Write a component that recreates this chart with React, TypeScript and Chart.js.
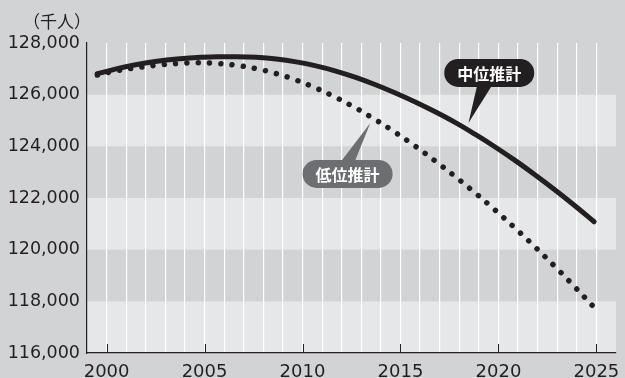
import React, { useEffect, useRef } from "react";
import { Chart, registerables } from "chart.js";

Chart.register(...registerables);

// ---- data ----
const years = [
  2000, 2001, 2002, 2003, 2004, 2005, 2006, 2007, 2008, 2009, 2010, 2011, 2012,
  2013, 2014, 2015, 2016, 2017, 2018, 2019, 2020, 2021, 2022, 2023, 2024, 2025,
];
const mediumProjection = [
  126810, 127010, 127170, 127295, 127385, 127440, 127465, 127470, 127445, 127380,
  127270, 127115, 126915, 126670, 126385, 126065, 125715, 125335, 124925, 124470,
  123985, 123465, 122910, 122330, 121720, 121080,
];
const lowProjection = [
  126760, 126930, 127045, 127140, 127205, 127235, 127210, 127135, 127005, 126815,
  126565, 126255, 125895, 125485, 125030, 124535, 124005, 123435, 122835, 122205,
  121545, 120850, 120125, 119370, 118580, 117765,
];
const yTickValues = [116000, 118000, 120000, 122000, 124000, 126000, 128000];
const xLabelYears = [2000, 2005, 2010, 2015, 2020, 2025];
const seriesNames = ["中位推計", "低位推計"];
const unitLabel = "（千人）";

const INK = "#231f20";
const BG = "#d2d3d5";
const LIGHT = "#e6e7e8";

const fmt = (v: number) => v.toLocaleString("en-US");

const decorPlugin = {
  id: "decor",
  beforeDraw(chart: any) {
    const { ctx, width, height, chartArea, scales } = chart;
    const y = scales.y;
    ctx.save();
    ctx.fillStyle = BG;
    ctx.fillRect(0, 0, width, height);
    for (let j = 0; j < yTickValues.length - 1; j += 2) {
      const yb = y.getPixelForValue(yTickValues[j]);
      const yt = y.getPixelForValue(yTickValues[j + 1]);
      ctx.fillStyle = LIGHT;
      ctx.fillRect(chartArea.left, yt, chartArea.right - chartArea.left, yb - yt);
    }
    ctx.restore();
  },
  afterDatasetsDraw(chart: any) {
    const { ctx, chartArea, scales } = chart;
    const x = scales.x;
    const y = scales.y;
    ctx.save();
    // 5-year tick marks
    ctx.strokeStyle = INK;
    ctx.lineWidth = 1;
    xLabelYears.forEach((yr) => {
      const px = Math.round(x.getPixelForValue(yr)) + 0.5;
      ctx.beginPath();
      ctx.moveTo(px, chartArea.bottom);
      ctx.lineTo(px, chartArea.bottom - 9);
      ctx.stroke();
    });

    // unit label
    ctx.fillStyle = INK;
    ctx.font = '17px "Noto Sans CJK JP"';
    ctx.textAlign = "right";
    ctx.textBaseline = "middle";
    ctx.fillText(unitLabel, chartArea.left + 4, 22);

    const bubble = (
      text: string,
      fill: string,
      cx: number,
      cy: number,
      tipX: number,
      tipY: number,
      baseL: number,
      baseR: number,
      up: boolean
    ) => {
      const w = 90;
      const h = 28;
      const r = h / 2;
      ctx.fillStyle = fill;
      ctx.beginPath();
      ctx.moveTo(cx - w / 2 + r, cy - h / 2);
      ctx.lineTo(cx + w / 2 - r, cy - h / 2);
      ctx.arc(cx + w / 2 - r, cy, r, -Math.PI / 2, Math.PI / 2);
      ctx.lineTo(cx - w / 2 + r, cy + h / 2);
      ctx.arc(cx - w / 2 + r, cy, r, Math.PI / 2, (3 * Math.PI) / 2);
      ctx.closePath();
      ctx.fill();
      const by = up ? cy - h / 2 + 2 : cy + h / 2 - 2;
      ctx.beginPath();
      ctx.moveTo(cx + baseL, by);
      ctx.lineTo(tipX, tipY);
      ctx.lineTo(cx + baseR, by);
      ctx.closePath();
      ctx.fill();
      ctx.fillStyle = "#ffffff";
      ctx.font = 'bold 16px "Noto Sans CJK JP"';
      ctx.textAlign = "center";
      ctx.textBaseline = "middle";
      ctx.fillText(text, cx, cy + 1);
    };

    bubble(
      seriesNames[0],
      INK,
      x.getPixelForValue(2019.53),
      y.getPixelForValue(126840),
      x.getPixelForValue(2018.47),
      y.getPixelForValue(124900),
      -12,
      3,
      false
    );
    bubble(
      seriesNames[1],
      "#6d6e71",
      x.getPixelForValue(2012.3),
      y.getPixelForValue(122930),
      x.getPixelForValue(2013.46),
      y.getPixelForValue(124900),
      -7,
      7,
      true
    );
    ctx.restore();
  },
};

export default function App() {
  const ref = useRef<HTMLCanvasElement | null>(null);
  useEffect(() => {
    if (!ref.current) return;
    const yFont = { family: '"DejaVu Sans"', size: 17.5 };
    const xFont = { family: '"DejaVu Sans"', size: 18 };
    const chart = new Chart(ref.current, {
      type: "line",
      data: {
        datasets: [
          {
            label: seriesNames[1],
            data: years.map((yr, i) => ({ x: yr, y: lowProjection[i] })),
            xAxisID: "xData",
            borderColor: INK,
            borderWidth: 5.5,
            borderDash: [0.01, 11.3],
            borderCapStyle: "round",
            pointRadius: 0,
            tension: 0.4,
            fill: false,
          },
          {
            label: seriesNames[0],
            data: years.map((yr, i) => ({ x: yr, y: mediumProjection[i] })),
            xAxisID: "xData",
            borderColor: INK,
            borderWidth: 5,
            borderCapStyle: "round",
            pointRadius: 0,
            tension: 0.4,
            fill: false,
          },
        ],
      },
      options: {
        animation: false,
        responsive: true,
        maintainAspectRatio: false,
        layout: { padding: { top: 43, right: 4, left: 0, bottom: 0 } },
        plugins: {
          legend: { display: false },
          tooltip: { enabled: false },
        },
        scales: {
          xData: {
            type: "linear",
            display: false,
            min: 1999.48,
            max: 2026.1,
          },
          x: {
            type: "linear",
            position: "bottom",
            min: 1999,
            max: 2026,
            afterFit: (s: any) => {
              s.height = 25;
            },
            afterBuildTicks: (s: any) => {
              const t = [];
              for (let v = 1999; v <= 2026; v++) t.push({ value: v });
              s.ticks = t;
            },
            ticks: {
              autoSkip: false,
              maxRotation: 0,
              padding: 9,
              color: INK,
              font: xFont,
              callback: (v: any) => (xLabelYears.includes(Number(v)) ? String(v) : ""),
            },
            grid: {
              drawTicks: false,
              lineWidth: 1.2,
              color: (c: any) =>
                c.tick && (c.tick.value === 1999 || c.tick.value === 2026)
                  ? "rgba(0,0,0,0)"
                  : "#ffffff",
            },
            border: { display: true, color: INK, width: 1.2 },
          },
          y: {
            type: "linear",
            min: 116000,
            max: 128000,
            afterFit: (s: any) => {
              s.width = 87;
            },
            afterBuildTicks: (s: any) => {
              s.ticks = yTickValues.map((v) => ({ value: v }));
            },
            ticks: {
              padding: 7,
              color: INK,
              font: yFont,
              callback: (v: any) => fmt(Number(v)),
            },
            grid: { display: false, drawTicks: false },
            border: { display: true, color: INK, width: 1.2 },
          },
        },
      },
      plugins: [decorPlugin],
    } as any);
    return () => chart.destroy();
  }, []);
  return (
    <div style={{ position: "absolute", left: 0, top: 0, width: 625, height: 378 }}>
      <canvas ref={ref} />
    </div>
  );
}
